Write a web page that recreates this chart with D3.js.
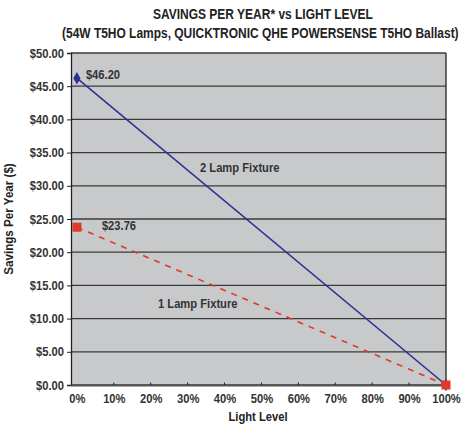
<!DOCTYPE html>
<html>
<head>
<meta charset="utf-8">
<script src="https://cdn.jsdelivr.net/npm/d3@7"></script>
<style>
  body { margin: 0; background: #fff; }
  svg { font-family: "Liberation Sans", Arial, sans-serif; font-weight: bold; }
</style>
</head>
<body>
<script>
const lightLevels = [0, 100];
const twoLamp = [46.20, 0];
const oneLamp = [23.76, 0];
const yTicks = [0, 5, 10, 15, 20, 25, 30, 35, 40, 45, 50];
const xTicks = [0, 10, 20, 30, 40, 50, 60, 70, 80, 90, 100];

const W = 464, H = 425;
const svg = d3.select("body").append("svg").attr("width", W).attr("height", H);

const x = d3.scaleLinear().domain([-1.6, 100]).range([71, 446]);
const y = d3.scaleLinear().domain([0, 50]).range([385, 53]);

// squeeze text horizontally to mimic the condensed face of the original
function condense(sel, k = 0.86) {
  sel.each(function () {
    const len = this.getComputedTextLength();
    d3.select(this).attr("textLength", len * k).attr("lengthAdjust", "spacingAndGlyphs");
  });
}

// plot background
svg.append("rect")
  .attr("x", x(-1.6)).attr("y", y(50))
  .attr("width", x(100) - x(-1.6)).attr("height", y(0) - y(50))
  .attr("fill", "#c8c9cb");

// gridlines
svg.append("g").selectAll("line").data(yTicks).join("line")
  .attr("x1", x(-1.6)).attr("x2", x(100))
  .attr("y1", d => y(d)).attr("y2", d => y(d))
  .attr("stroke", "#3a3a3a").attr("stroke-width", 1.3);

// right border
svg.append("line")
  .attr("x1", x(100)).attr("x2", x(100)).attr("y1", y(50)).attr("y2", y(0))
  .attr("stroke", "#222").attr("stroke-width", 1.3);

// y axis
const yAxis = svg.append("g")
  .attr("transform", `translate(${x(-1.6)},0)`)
  .call(d3.axisLeft(y).tickValues(yTicks).tickSize(4).tickPadding(3).tickFormat(d => "$" + d3.format(".2f")(d)));
yAxis.select(".domain").attr("stroke", "#222").attr("stroke-width", 1.3);
yAxis.selectAll(".tick line").attr("stroke", "#222");
yAxis.selectAll("text").attr("font-size", 13).attr("fill", "#333").attr("font-family", "inherit").call(condense);

// x axis
const xAxis = svg.append("g")
  .attr("transform", `translate(0,${y(0)})`)
  .call(d3.axisBottom(x).tickValues(xTicks).tickSize(0).tickPadding(9).tickFormat(d => d + "%"));
xAxis.select(".domain").attr("stroke", "#555").attr("stroke-width", 2);
xAxis.selectAll("text").attr("font-size", 13).attr("fill", "#333").attr("font-family", "inherit").call(condense);
svg.append("g").selectAll("line").data(xTicks.slice(1, -1)).join("line")
  .attr("x1", d => x(d)).attr("x2", d => x(d))
  .attr("y1", y(0) - 2.5).attr("y2", y(0))
  .attr("stroke", "#222");

const line = d3.line().x((d, i) => x(lightLevels[i])).y(d => y(d));

// 1 lamp, dashed red
svg.append("path").datum(oneLamp)
  .attr("d", line).attr("fill", "none")
  .attr("stroke", "#e0392b").attr("stroke-width", 1.6)
  .attr("stroke-dasharray", "6,6");

// 2 lamp, blue
svg.append("path").datum(twoLamp)
  .attr("d", line).attr("fill", "none")
  .attr("stroke", "#2e3192").attr("stroke-width", 1.6);

// markers
svg.append("g").selectAll("path").data(twoLamp).join("path")
  .attr("transform", (d, i) => `translate(${x(lightLevels[i])},${y(d)})`)
  .attr("d", d3.symbol(d3.symbolDiamond, 45))
  .attr("fill", "#2e3192");
svg.append("g").selectAll("rect").data(oneLamp).join("rect")
  .attr("x", (d, i) => x(lightLevels[i]) - 4.5)
  .attr("y", d => y(d) - 4.5)
  .attr("width", 9).attr("height", 9)
  .attr("fill", "#e0392b");

// data labels
const labels = svg.append("g").attr("font-size", 13).attr("fill", "#333");
labels.append("text").attr("x", x(0) + 9).attr("y", y(twoLamp[0]) + 1)
  .text("$" + twoLamp[0].toFixed(2));
labels.append("text").attr("x", x(0) + 25).attr("y", y(oneLamp[0]) + 3)
  .text("$" + oneLamp[0].toFixed(2));
labels.append("text").attr("x", 200).attr("y", 172)
  .text("2 Lamp Fixture");
labels.append("text").attr("x", 158).attr("y", 308)
  .text("1 Lamp Fixture");
labels.selectAll("text").call(condense);

// titles: scaled with a transform so the drawn box is the squeezed one
function titleLine(tx, ty, width, str) {
  const t = svg.append("text").attr("font-size", 14.5).attr("fill", "#222").text(str);
  const k = width / t.node().getComputedTextLength();
  t.attr("transform", `translate(${tx},${ty}) scale(${k},1)`);
}
titleLine(153, 19, 220, "SAVINGS PER YEAR* vs LIGHT LEVEL");
titleLine(62, 38, 397, "(54W T5HO Lamps, QUICKTRONIC QHE POWERSENSE T5HO Ballast)");

svg.append("text").attr("x", 258).attr("y", 421).attr("text-anchor", "middle")
  .attr("font-size", 13).attr("fill", "#222").text("Light Level").call(condense);
svg.append("text").attr("transform", `translate(13,${(y(0) + y(50)) / 2}) rotate(-90)`)
  .attr("text-anchor", "middle")
  .attr("font-size", 13.5).attr("fill", "#222").text("Savings Per Year ($)").call(condense);
</script>
</body>
</html>
